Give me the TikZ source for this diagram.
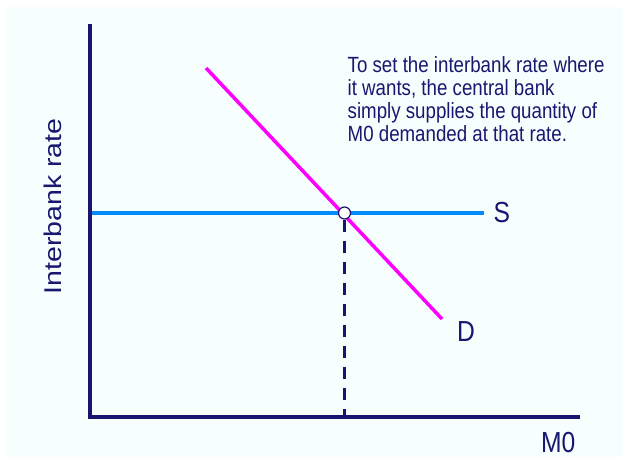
\documentclass[tikz,border=0pt]{standalone}
\usepackage{fontspec}
\setmainfont{Liberation Sans}[FakeStretch=0.85]
\newfontfamily\plainsans{Liberation Sans}
\definecolor{navy}{RGB}{22,22,112}
\definecolor{txtnavy}{RGB}{24,24,112}
\definecolor{sblue}{RGB}{0,140,255}
\definecolor{dmag}{RGB}{255,0,255}
\definecolor{bgc}{RGB}{246,254,254}
\tikzset{
  axisline/.style={draw=navy,line width=4bp},
  supply/.style={draw=sblue,line width=3.5bp},
  demand/.style={draw=dmag,line width=3.5bp},
  dropline/.style={draw=navy,line width=2.5bp,dash pattern=on 12bp off 9bp},
  curvelabel/.style={text=txtnavy,inner sep=0pt,anchor=base west,font=\fontsize{29bp}{30bp}\selectfont},
  eqpoint/.style={circle,draw=navy,fill=white,line width=1.2bp,minimum size=12bp,inner sep=0pt}
}
\begin{document}
\begin{tikzpicture}[x=1bp,y=-1bp]
\useasboundingbox (0,0) rectangle (628,461);
\fill[white] (0,0) rectangle (628,461);
\fill[bgc] (6,7) rectangle (623,457);
% axes
\coordinate (ytop) at (90,24);
\coordinate (origin) at (90,416.5);
\coordinate (xend) at (580,416.5);
\draw[axisline] (ytop) -- (origin) -- (xend);
% supply and demand
\coordinate (sstart) at (92,213);
\coordinate (send) at (484,213);
\coordinate (dstart) at (206,68);
\coordinate (dend) at (442,319);
\coordinate (foot) at (344.5,416.5);
\draw[supply] (sstart) -- (send);
\draw[demand] (dstart) -- (dend);
\node[eqpoint] (eq) at (344.5,213) {};
\draw[dropline] (eq.south) -- (foot);
% labels
\node[curvelabel] (slab) at (493.5,223) {S};
\node[curvelabel] (dlab) at (457,341) {D};
\node[curvelabel] (mlab) at (541,452) {M0};
\node[text=txtnavy,inner sep=0pt,rotate=90,font=\plainsans\fontsize{28.5bp}{30bp}\selectfont] (ylab) at (53,206.5) {\scalebox{1}[0.85]{Interbank rate}};
\node[text=txtnavy,inner sep=0pt,anchor=base west,align=left,font=\fontsize{22bp}{23.3bp}\selectfont] (note) at (347.5,142)
  {To set the interbank rate where\\it wants, the central bank\\simply supplies the quantity of\\M0 demanded at that rate.};
\end{tikzpicture}
\end{document}
